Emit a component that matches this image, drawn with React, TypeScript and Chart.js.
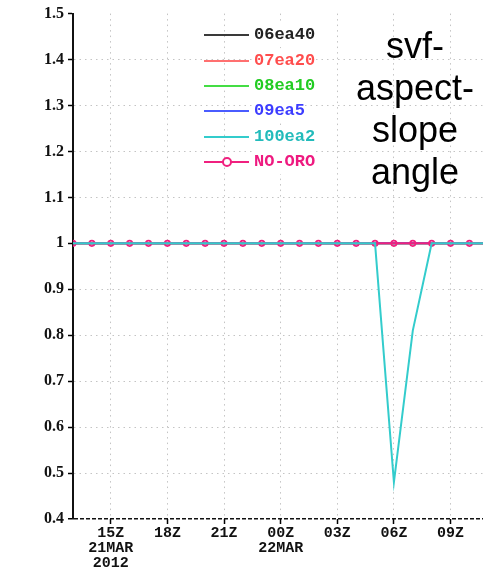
import React, { useEffect, useRef } from "react";
import { Chart, registerables } from "chart.js";

Chart.register(...registerables);

// Hours since 21MAR2012 00Z
const hours = [13, 14, 15, 16, 17, 18, 19, 20, 21, 22, 23, 24, 25, 26, 27, 28, 29, 30, 31, 32, 33, 34, 35];
const tickHours = [15, 18, 21, 24, 27, 30, 33];
const tickLabels: (string | string[])[] = [["15Z", "21MAR", "2012"], "18Z", "21Z", ["00Z", "22MAR"], "03Z", "06Z", "09Z"];

const s06ea40 = [1, 1, 1, 1, 1, 1, 1, 1, 1, 1, 1, 1, 1, 1, 1, 1, 1, 1, 1, 1, 1, 1, 1];
const s07ea20 = [1, 1, 1, 1, 1, 1, 1, 1, 1, 1, 1, 1, 1, 1, 1, 1, 1, 1, 1, 1, 1, 1, 1];
const s08ea10 = [1, 1, 1, 1, 1, 1, 1, 1, 1, 1, 1, 1, 1, 1, 1, 1, 1, 1, 1, 1, 1, 1, 1];
const s09ea5 = [1, 1, 1, 1, 1, 1, 1, 1, 1, 1, 1, 1, 1, 1, 1, 1, 1, 1, 1, 1, 1, 1, 1];
const s100ea2 = [1, 1, 1, 1, 1, 1, 1, 1, 1, 1, 1, 1, 1, 1, 1, 1, 1, 0.48, 0.81, 1, 1, 1, 1];
const sNoOro = [1, 1, 1, 1, 1, 1, 1, 1, 1, 1, 1, 1, 1, 1, 1, 1, 1, 1, 1, 1, 1, 1, 1];

const seriesNames = ["06ea40", "07ea20", "08ea10", "09ea5", "100ea2", "NO-ORO"];
const lineColors = ["#3a3a3a", "#ff7070", "#44dd44", "#4a5cff", "#33cccc", "#f0207f"];
const textColors = ["#222222", "#ff4d4d", "#22cc22", "#3c3cff", "#22bbbb", "#ee1a80"];

const toPts = (vals: number[]) => vals.map((v, i) => ({ x: hours[i], y: v }));

export default function App() {
  const ref = useRef<HTMLCanvasElement>(null);

  useEffect(() => {
    if (!ref.current) return;
    const all = [s06ea40, s07ea20, s08ea10, s09ea5, s100ea2, sNoOro];
    const orders = [5, 4, 3, 2, 0, 1];
    const datasets = all.map((vals, i) => ({
      label: seriesNames[i],
      data: toPts(vals),
      borderColor: lineColors[i],
      backgroundColor: lineColors[i],
      borderWidth: 2,
      pointRadius: i === 5 ? 2.7 : 0,
      pointBorderWidth: 1.7,
      pointBorderColor: lineColors[i],
      pointBackgroundColor: "rgba(0,0,0,0)",
      tension: 0,
      order: orders[i],
    }));
    const isVal = (a: number, b: number) => Math.abs(a - b) < 1e-6;
    const chart = new Chart(ref.current, {
      type: "line",
      data: { datasets },
      options: {
        animation: false,
        responsive: true,
        maintainAspectRatio: false,
        layout: { padding: { top: 10, left: 0, right: 0, bottom: 0 } },
        plugins: { legend: { display: false }, tooltip: { enabled: false } },
        scales: {
          x: {
            type: "linear",
            min: 13,
            max: 35,
            afterFit: (s: any) => {
              s.height = 52;
            },
            afterBuildTicks: (s: any) => {
              s.ticks = tickHours.map((v) => ({ value: v }));
            },
            ticks: {
              includeBounds: false,
              autoSkip: false,
              maxRotation: 0,
              padding: 2,
              color: "#111",
              font: { family: "Liberation Mono", size: 15, weight: "bold", lineHeight: 1.0 },
              callback: (v: any) => {
                const k = tickHours.indexOf(Number(v));
                return k >= 0 ? tickLabels[k] : "";
              },
            },
            grid: {
              color: "#c4c4c4",
              lineWidth: 1,
              tickColor: "#000",
              tickLength: 5,
              tickWidth: 1.5,
            },
            border: { display: false, dash: [1.5, 4] },
          },
          y: {
            type: "linear",
            min: 0.4,
            max: 1.5,
            afterFit: (s: any) => {
              s.width = 73;
            },
            ticks: {
              stepSize: 0.1,
              padding: 4,
              color: "#111",
              font: { family: "Liberation Serif", size: 16, weight: "bold" },
              callback: (v: any) => String(Number(Number(v).toFixed(1))),
            },
            grid: {
              color: (c: any) =>
                c.tick && isVal(c.tick.value, 0.4) ? "#111" : c.tick && isVal(c.tick.value, 1.5) ? "rgba(0,0,0,0)" : "#c4c4c4",
              lineWidth: (c: any) => (c.tick && isVal(c.tick.value, 0.4) ? 1.5 : 1),
              tickColor: "#000",
              tickLength: 5,
              tickWidth: 1.5,
            },
            border: {
              display: true,
              color: "#111",
              width: 2,
              dash: (c: any) => (c.tick && isVal(c.tick.value, 0.4) ? [4, 2] : [1.5, 4]),
            },
          },
        },
      },
    } as any);
    return () => chart.destroy();
  }, []);

  const rowY = [35, 61, 86, 111, 137, 162];

  return (
    <div
      style={{
        position: "fixed",
        left: 0,
        top: 0,
        width: 483,
        height: 571,
        overflow: "hidden",
        background: "#fff",
      }}
    >
      <div style={{ position: "absolute", left: 0, top: 0, width: 494, height: 571 }}>
        <canvas ref={ref} />
      </div>
      {seriesNames.map((name, i) => (
        <div key={name} style={{ position: "absolute", left: 0, top: rowY[i] - 12, height: 24, width: 483 }}>
          <div
            style={{
              position: "absolute",
              left: 204,
              top: 11,
              width: 45,
              height: 2,
              background: lineColors[i],
            }}
          />
          {i === 5 && (
            <div
              style={{
                position: "absolute",
                left: 222,
                top: 7,
                width: 6,
                height: 6,
                borderRadius: "50%",
                border: `2px solid ${lineColors[i]}`,
                background: "#fff",
              }}
            />
          )}
          <div
            style={{
              position: "absolute",
              left: 254,
              top: 0,
              height: 24,
              lineHeight: "24px",
              fontFamily: "'Liberation Mono', monospace",
              fontWeight: "bold",
              fontSize: 17,
              color: textColors[i],
              background: "#fff",
              whiteSpace: "nowrap",
            }}
          >
            {name}
          </div>
        </div>
      ))}
      <div
        style={{
          position: "absolute",
          left: 335,
          top: 25,
          width: 160,
          textAlign: "center",
          fontFamily: "'Liberation Sans', Arial, sans-serif",
          fontSize: 36,
          lineHeight: "42px",
          color: "#000",
        }}
      >
        svf-
        <br />
        aspect-
        <br />
        slope
        <br />
        angle
      </div>
    </div>
  );
}
